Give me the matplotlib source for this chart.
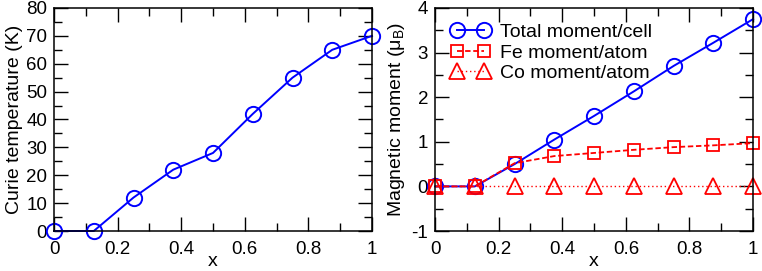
import matplotlib
matplotlib.use("Agg")
import matplotlib.pyplot as plt
from matplotlib.ticker import MultipleLocator

plt.rcParams['font.family'] = ['Liberation Sans', 'DejaVu Sans']
plt.rcParams['mathtext.fontset'] = 'custom'
plt.rcParams['mathtext.rm'] = 'Liberation Sans'
plt.rcParams['mathtext.it'] = 'Liberation Sans'

# composition x
x = [0, 0.125, 0.25, 0.375, 0.5, 0.625, 0.75, 0.875, 1.0]
# curie temperature (K)
tc = [0, 0, 12, 22, 28, 42, 55, 65, 70]
# magnetic moments (mu_B)
total_moment = [0, 0, 0.50, 1.05, 1.58, 2.13, 2.70, 3.22, 3.75]
fe_moment = [0, 0, 0.52, 0.68, 0.75, 0.82, 0.88, 0.92, 0.97]
co_moment = [0, 0, 0, 0, 0, 0, 0, 0, 0]

FS = 14    # labels + legend
TFS = 13.5 # tick labels

fig = plt.figure(figsize=(7.62, 2.71), dpi=100)
ax1 = fig.add_axes([0.0709, 0.1476, 0.4173, 0.823])
ax2 = fig.add_axes([0.571, 0.1476, 0.4173, 0.823])

def style_axis(ax, ymaj, ymin):
  ax.xaxis.set_major_locator(MultipleLocator(0.2))
  ax.xaxis.set_minor_locator(MultipleLocator(0.1))
  ax.yaxis.set_major_locator(MultipleLocator(ymaj))
  ax.yaxis.set_minor_locator(MultipleLocator(ymin))
  ax.tick_params(which='both', direction='in', top=True, right=True, width=1.0, labelsize=TFS)
  ax.tick_params(which='major', length=10)
  ax.tick_params(which='minor', length=5.5)
  ax.tick_params(axis='y', pad=5)
  ax.tick_params(axis='x', pad=7)
  for s in ax.spines.values():
    s.set_linewidth(1.1)
  ax.xaxis.set_major_formatter(plt.FuncFormatter(lambda v, p: '{:g}'.format(round(v, 2))))
  ax.yaxis.set_major_formatter(plt.FuncFormatter(lambda v, p: '{:g}'.format(round(v, 2))))
  ax.set_xlabel('x', fontsize=FS, labelpad=-3.5)

# left panel: curie temperature
ax1.plot(x, tc, color='blue', lw=1.4, marker='o', ms=11, mfc='none', mew=1.4, clip_on=False)
ax1.set_xlim(0, 1)
ax1.set_ylim(0, 80)
style_axis(ax1, 10, 5)
ax1.set_ylabel('Curie temperature (K)', fontsize=FS, labelpad=2)

# right panel: magnetic moments
ax2.plot(x, total_moment, color='blue', lw=1.4, ls='-', marker='o', ms=11, mfc='none', mew=1.4,
         label='Total moment/cell', clip_on=False)
ax2.plot(x, fe_moment, color='red', lw=1.3, ls=(0, (3, 1.5)), marker='s', ms=9, mfc='none', mew=1.3,
         label='Fe moment/atom', clip_on=False)
ax2.plot(x, co_moment, color='red', lw=1.0, ls=(0, (1, 2)), marker='^', ms=11, mfc='none', mew=1.3,
         label='Co moment/atom', clip_on=False)
ax2.set_xlim(0, 1)
ax2.set_ylim(-1, 4)
style_axis(ax2, 1, 0.5)
ax2.set_ylabel(r'Magnetic moment ($\mu_{\rm B}$)', fontsize=FS, labelpad=3)
ax2.legend(loc='upper left', bbox_to_anchor=(0.031, 0.958), frameon=False, fontsize=FS, numpoints=2,
           handlelength=2.0, handletextpad=0.54, labelspacing=0.16, borderaxespad=0, borderpad=0.3)

fig.savefig('out.png', dpi=100)
